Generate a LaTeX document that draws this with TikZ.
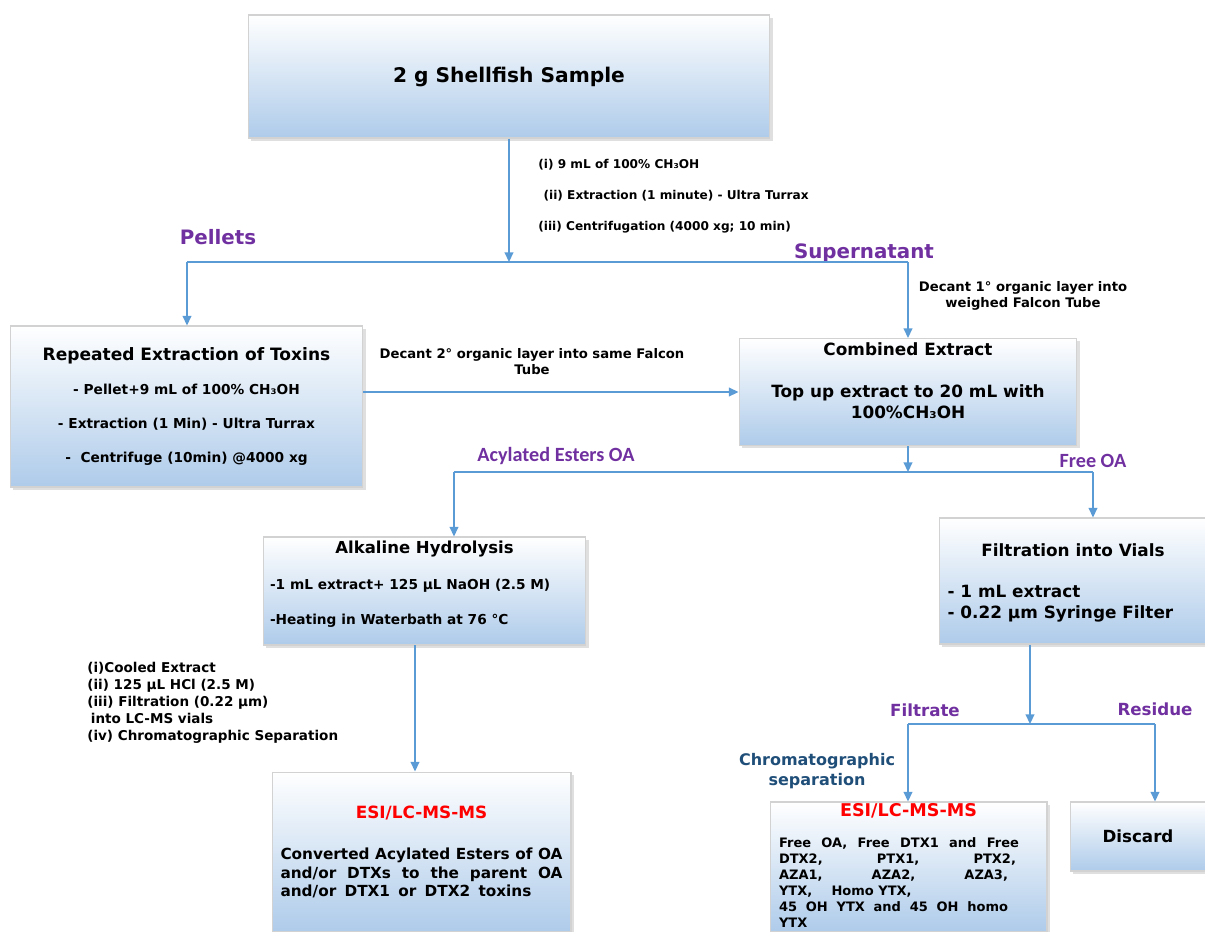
\documentclass[tikz,border=0pt]{standalone}
\usepackage{fontspec}
\setmainfont{DejaVu Sans}
\newfontfamily\tagfont{Carlito}
\usetikzlibrary{arrows.meta, shadows}

\definecolor{boxblue}{RGB}{174,203,234}
\definecolor{flowblue}{RGB}{91,155,213}
\definecolor{tagpurple}{RGB}{112,48,160}
\definecolor{sepblue}{RGB}{31,78,121}

\newcommand{\fsz}[2]{\fontsize{#1}{#2}\selectfont}

\tikzset{
  stage/.style={draw=gray!35, line width=0.6pt, top color=white, bottom color=boxblue,
    drop shadow={shadow xshift=1.5pt, shadow yshift=-1.5pt, opacity=0.25},
    inner sep=0pt, font=\bfseries},
  flow/.style={draw=flowblue, line width=0.9pt, -{Triangle[length=5.5pt, width=5pt]}},
  link/.style={draw=flowblue, line width=0.9pt},
  tag/.style={text=tagpurple, inner sep=0pt, font=\fsz{11.3}{13}\bfseries},
  subtag/.style={text=tagpurple, inner sep=0pt, font=\tagfont\fsz{11.5}{13}\bfseries},
  note/.style={inner sep=0pt, align=center, font=\fsz{7.5}{8.8}\bfseries},
}

\begin{document}
\begin{tikzpicture}[x=0.02cm, y=-0.02cm]
\useasboundingbox (0,0) rectangle (1205,931);

% boxes
\node[stage, minimum width=10.44cm, minimum height=2.46cm, font=\fsz{11.5}{14}\bfseries] (sample) at (509,76.5) {2 g Shellfish Sample};

\node[stage, minimum width=7.06cm, minimum height=3.22cm, align=center, font=\fsz{7.8}{9.5}\bfseries] (repeat) at (186.5,406.5)
  {{\fsz{9.7}{9.5}Repeated Extraction of Toxins}\\[10pt]
   - Pellet+9 mL of 100\% CH₃OH\\[10pt]
   - Extraction (1 Min) - Ultra Turrax\\[10pt]
   -\ \ Centrifuge (10min) @4000 xg};

\node[stage, minimum width=6.76cm, minimum height=2.14cm, align=center, font=\fsz{9.6}{11.9}\bfseries, text depth=13pt] (combined) at (908,392)
  {Combined Extract\\[11.9pt]
   Top up extract to 20 mL with\\
   100\%CH₃OH};

\node[stage, minimum width=6.46cm, minimum height=2.16cm] (alkaline) at (424.5,591)
  {\begin{minipage}[c][2.16cm][t]{6.18cm}
   \vspace{2pt}\centering\fsz{9.4}{9.5}Alkaline Hydrolysis\par
   \vspace{11.5pt}\raggedright\fsz{7.8}{9.5}
   -1 mL extract+ 125 µL NaOH (2.5 M)\\[10.3pt]
   -Heating in Waterbath at 76 °C\par
   \end{minipage}};

\node[stage, minimum width=5.34cm, minimum height=2.52cm] (filtration) at (1073,581)
  {\begin{minipage}[c][2.52cm][t]{5.02cm}
   \vspace{14.4pt}\centering\fsz{9.6}{11.9}Filtration into Vials\par
   \vspace{11.9pt}\raggedright
   - 1 mL extract\\
   - 0.22 µm Syringe Filter\par
   \end{minipage}};

\node[stage, minimum width=5.98cm, minimum height=3.2cm] (esiL) at (421.5,852)
  {\begin{minipage}[c][3.2cm][t]{5.64cm}
   \vspace{19.3pt}\centering\fsz{9.6}{10.5}\textcolor{red}{ESI/LC-MS-MS}\par
   \vspace{13.1pt}\raggedright\fsz{8.7}{10.5}
   \makebox[\linewidth][s]{Converted Acylated Esters of OA}\\
   \makebox[\linewidth][s]{and/or DTXs to the parent OA}\\
   \makebox[5.02cm][s]{and/or DTX1 or DTX2 toxins}\par
   \end{minipage}};

\node[stage, minimum width=5.54cm, minimum height=2.6cm] (esiR) at (908.5,867)
  {\begin{minipage}[c][2.6cm][t]{5.18cm}
   \vspace{0.6pt}\centering\fsz{10}{9}\textcolor{red}{ESI/LC-MS-MS}\par
   \vspace{8.7pt}\raggedright\fsz{7.4}{9.1}
   \makebox[4.8cm][s]{Free OA, Free DTX1 and Free}\\
   \makebox[4.74cm][s]{DTX2, PTX1, PTX2,}\\
   \makebox[4.58cm][s]{AZA1, AZA2, AZA3,}\\
   YTX,\hspace{11pt}Homo YTX,\\
   \makebox[4.58cm][s]{45 OH YTX and 45 OH homo}\\
   YTX\par
   \end{minipage}};

\node[stage, minimum width=2.7cm, minimum height=1.38cm, font=\fsz{9.5}{11}\bfseries] (discard) at (1138,836.5) {Discard};

% labels
\node[tag] (pellets) at (218,237) {Pellets};
\node[tag] (supernatant) at (864,253) {Supernatant};
\node[note, anchor=west, align=left, font=\fsz{6.9}{8.3}\bfseries] (prep) at (538,196)
  {(i) 9 mL of 100\% CH₃OH\\[9.3pt]
   \hspace*{3pt}(ii) Extraction (1 minute) - Ultra Turrax\\[9.3pt]
   (iii) Centrifugation (4000 xg; 10 min)};
\node[note] (decantone) at (1023,296) {Decant 1° organic layer into\\weighed Falcon Tube};
\node[note] (decanttwo) at (532,361.5) {Decant 2° organic layer into same Falcon\\Tube};
\node[subtag] (acyl) at (556,456) {Acylated Esters OA};
\node[subtag] (freeoa) at (1093,461) {Free OA};
\node[note, anchor=west, align=left, font=\fsz{7.7}{9.6}\bfseries] (cooled) at (87,703)
  {(i)Cooled Extract\\
   (ii) 125 µL HCl (2.5 M)\\
   (iii) Filtration (0.22 µm)\\
   \hspace*{2pt}into LC-MS vials\\
   (iv) Chromatographic Separation};
\node[tag, font=\fsz{9.5}{11}\bfseries] (filtrate) at (925,710) {Filtrate};
\node[tag, font=\fsz{9.5}{11}\bfseries] (residue) at (1155,709) {Residue};
\node[note, text=sepblue, font=\fsz{9.1}{11.3}\bfseries] (chrom) at (817,771) {Chromatographic\\separation};

% connectors
\coordinate (split) at (509,262);
\coordinate (pelletsend) at (187,262);
\coordinate (superend) at (908,262);
\draw[flow] (sample) -- (split);
\draw[link] (pelletsend) -- (superend);
\draw[flow] (pelletsend) -- (pelletsend |- repeat.north);
\draw[flow] (superend) -- (superend |- combined.north);
\draw[flow] (repeat.east |- combined.west) -- (combined.west);

\coordinate (fork) at (908,472);
\coordinate (acylend) at (454,472);
\coordinate (freeend) at (1093,472);
\draw[flow] (combined) -- (fork);
\draw[link] (acylend) -- (freeend);
\draw[flow] (acylend) -- (acylend |- alkaline.north);
\draw[flow] (freeend) -- (freeend |- filtration.north);

\coordinate (hydro) at (415,645);
\draw[flow] (hydro) -- (hydro |- esiL.north);

\coordinate (vial) at (1030,724);
\coordinate (filtend) at (908,724);
\coordinate (resend) at (1155,724);
\draw[flow] (filtration.south -| vial) -- (vial);
\draw[link] (filtend) -- (resend);
\draw[flow] (filtend) -- (filtend |- esiR.north);
\draw[flow] (resend) -- (resend |- discard.north);
\end{tikzpicture}
\end{document}
